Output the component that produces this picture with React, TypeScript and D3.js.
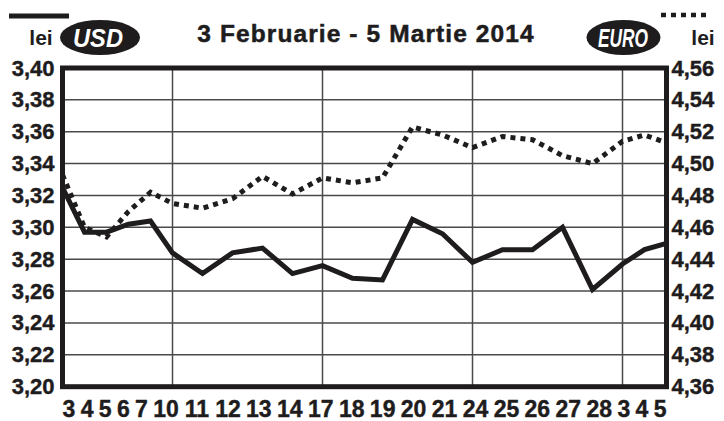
import React, { useEffect, useRef } from "react";
import * as d3 from "d3";

// zilele de tranzactionare 3 feb - 5 mar 2014
const days = ["3", "4", "5", "6", "7", "10", "11", "12", "13", "14", "17", "18", "19", "20", "21", "24", "25", "26", "27", "28", "3", "4", "5"];
const usd = [3.325, 3.297, 3.297, 3.302, 3.304, 3.284, 3.271, 3.284, 3.287, 3.271, 3.276, 3.268, 3.267, 3.305, 3.296, 3.278, 3.286, 3.286, 3.300, 3.261, 3.277, 3.286, 3.290];
const euro = [4.493, 4.46, 4.454, 4.47, 4.482, 4.475, 4.472, 4.478, 4.492, 4.481, 4.491, 4.488, 4.491, 4.523, 4.518, 4.51, 4.517, 4.515, 4.505, 4.5, 4.514, 4.518, 4.513];
const usdTicks = [3.2, 3.22, 3.24, 3.26, 3.28, 3.3, 3.32, 3.34, 3.36, 3.38, 3.4];
const euroTicks = [4.36, 4.38, 4.4, 4.42, 4.44, 4.46, 4.48, 4.5, 4.52, 4.54, 4.56];
const mondays = [5, 10, 15, 20];

const W = 724;
const H = 421;
const margin = { top: 68, right: 57.5, bottom: 34.3, left: 62.5 };
const FONT = "'Liberation Sans', Arial, Helvetica, sans-serif";
const INK = "#1e1c1d";

const App = () => {
  const ref = useRef<SVGSVGElement>(null);

  useEffect(() => {
    draw();
  });

  let draw = () => {
    const svg = d3.select(ref.current);
    svg.selectAll("*").remove();

    const pw = W - margin.left - margin.right;
    const ph = H - margin.top - margin.bottom;

    // each day gets a slot that depends on its label length
    const slot = days.map((d) => d.length + 1.75);
    const pos = days.map((d, i) => d3.sum(slot.slice(0, i)));
    const x = d3.scaleLinear().domain([0, pos[pos.length - 1]]).range([0, pw]);

    // label flow (digit = 1 unit, gap between labels)
    const gap = 0.42;
    const centers: number[] = [];
    days.forEach((d, i) => {
      if (i === 0) centers.push(0);
      else centers.push(centers[i - 1] + (days[i - 1].length + d.length) / 2 + gap);
    });
    const xl = d3
      .scaleLinear()
      .domain([-days[0].length / 2, centers[centers.length - 1] + days[days.length - 1].length / 2])
      .range([0, pw]);

    const yL = d3.scaleLinear().domain([3.2, 3.4]).range([ph, 0]);
    const yR = d3.scaleLinear().domain([4.36, 4.56]).range([ph, 0]);
    const fmt = (v: number) => v.toFixed(2).replace(".", ",");

    const g = svg.append("g").attr("transform", `translate(${margin.left},${margin.top})`);

    // grid
    g.selectAll(".hgrid")
      .data(usdTicks)
      .enter()
      .append("line")
      .attr("x1", 0)
      .attr("x2", pw)
      .attr("y1", (d) => yL(d))
      .attr("y2", (d) => yL(d))
      .attr("stroke", "#4a4a4a")
      .attr("stroke-width", 1.5);

    g.selectAll(".vgrid")
      .data(mondays)
      .enter()
      .append("line")
      .attr("x1", (d) => x(pos[d]))
      .attr("x2", (d) => x(pos[d]))
      .attr("y1", 0)
      .attr("y2", ph)
      .attr("stroke", "#4a4a4a")
      .attr("stroke-width", 1.5);

    // series
    const lineUsd = d3
      .line<number>()
      .x((d, i) => x(pos[i]))
      .y((d) => yL(d));
    const lineEuro = d3
      .line<number>()
      .x((d, i) => x(pos[i]))
      .y((d) => yR(d));

    g.append("path")
      .attr("d", lineEuro(euro))
      .attr("fill", "none")
      .attr("stroke", INK)
      .attr("stroke-width", 5)
      .attr("stroke-dasharray", "5,5");

    g.append("path")
      .attr("d", lineUsd(usd))
      .attr("fill", "none")
      .attr("stroke", INK)
      .attr("stroke-width", 5);

    // frame
    g.append("rect")
      .attr("x", 0)
      .attr("y", 0)
      .attr("width", pw)
      .attr("height", ph)
      .attr("fill", "none")
      .attr("stroke", INK)
      .attr("stroke-width", 5);

    // axis labels
    const lab = svg.append("g").attr("transform", `translate(${margin.left},${margin.top})`)
      .attr("stroke", INK)
      .attr("stroke-width", 0.4);

    lab.selectAll(".ly")
      .data(usdTicks)
      .enter()
      .append("text")
      .attr("x", -8)
      .attr("y", (d) => yL(d) + 7.5)
      .attr("text-anchor", "end")
      .attr("font-size", 22)
      .text((d) => fmt(d));

    lab.selectAll(".ry")
      .data(euroTicks)
      .enter()
      .append("text")
      .attr("x", pw + 5)
      .attr("y", (d) => yR(d) + 7.5)
      .attr("font-size", 22)
      .text((d) => fmt(d));

    lab.selectAll(".lx")
      .data(days)
      .enter()
      .append("text")
      .attr("x", (d, i) => xl(centers[i]))
      .attr("y", ph + 30)
      .attr("text-anchor", "middle")
      .attr("font-size", 23)
      .text((d) => d);

    // header
    const hd = svg.append("g");
    hd.append("line")
      .attr("x1", 9)
      .attr("x2", 69)
      .attr("y1", 16)
      .attr("y2", 16)
      .attr("stroke", INK)
      .attr("stroke-width", 5);
    hd.append("text").attr("x", 41).attr("y", 45).attr("text-anchor", "middle").attr("font-size", 21).text("lei");
    hd.append("ellipse").attr("cx", 100).attr("cy", 37.5).attr("rx", 40).attr("ry", 17.5).attr("fill", INK);
    hd.append("text")
      .attr("x", 98)
      .attr("y", 47)
      .attr("text-anchor", "middle")
      .attr("font-size", 26)
      .attr("font-style", "italic")
      .attr("fill", "#fff")
      .attr("textLength", 50)
      .attr("lengthAdjust", "spacingAndGlyphs")
      .text("USD");

    hd.append("text")
      .attr("x", 366)
      .attr("y", 42)
      .attr("text-anchor", "middle")
      .attr("font-size", 24.5)
      .attr("letter-spacing", 1.1)
      .attr("stroke", INK)
      .attr("stroke-width", 0.5)
      .text("3 Februarie - 5 Martie 2014");

    hd.append("line")
      .attr("x1", 661)
      .attr("x2", 711)
      .attr("y1", 15)
      .attr("y2", 15)
      .attr("stroke", INK)
      .attr("stroke-width", 4.5)
      .attr("stroke-dasharray", "5,5");
    hd.append("ellipse").attr("cx", 623.5).attr("cy", 37.5).attr("rx", 37).attr("ry", 17.5).attr("fill", INK);
    hd.append("text")
      .attr("x", 623)
      .attr("y", 46.5)
      .attr("text-anchor", "middle")
      .attr("font-size", 25)
      .attr("font-style", "italic")
      .attr("fill", "#fff")
      .attr("textLength", 50)
      .attr("lengthAdjust", "spacingAndGlyphs")
      .text("EURO");
    hd.append("text").attr("x", 703).attr("y", 45).attr("text-anchor", "middle").attr("font-size", 21).text("lei");
  };

  return (
    <svg
      ref={ref}
      width={W}
      height={H}
      fontFamily={FONT}
      fontWeight="bold"
      fill={INK}
      style={{ position: "absolute", left: 0, top: 0, background: "#fff" }}
    />
  );
};

export default App;
